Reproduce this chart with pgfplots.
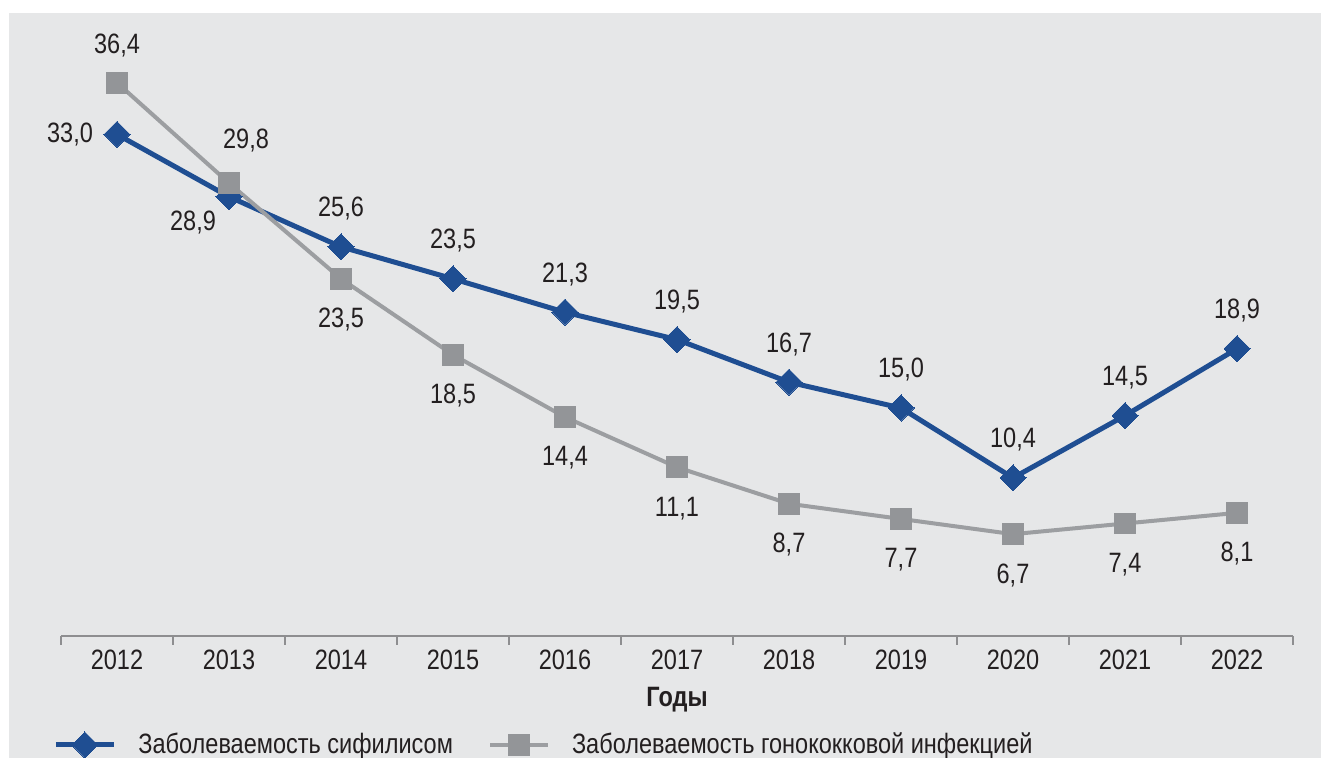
\documentclass[border=0pt]{standalone}
\usepackage{fontspec}
\setmainfont{Liberation Sans}[FakeStretch=0.84]
\usepackage{pgfplots}
\usepackage{pgfplotstable}
\pgfplotsset{compat=1.18}
\definecolor{bg}{HTML}{E6E7E8}
\definecolor{syph}{HTML}{1F4E92}
\definecolor{gonol}{HTML}{9C9EA1}
\definecolor{gonom}{HTML}{939598}
\definecolor{txt}{HTML}{231F20}
\definecolor{axl}{HTML}{8E8E90}

\pgfplotstableread{
x y lab dx dy
0 33.0 33,0 -23.5 0
1 28.9 28,9 -18 -13
2 25.6 25,6 0 19
3 23.5 23,5 0 19
4 21.3 21,3 0 19
5 19.5 19,5 0 19
6 16.7 16,7 0 19
7 15.0 15,0 0 19
8 10.4 10,4 0 19
9 14.5 14,5 0 19
10 18.9 18,9 0 19
}\syphtab

\pgfplotstableread{
x y lab dx dy
0 36.4 36,4 0 18.5
1 29.8 29,8 8.5 21.5
2 23.5 23,5 0 -20.5
3 18.5 18,5 0 -20.5
4 14.4 14,4 0 -20.5
5 11.1 11,1 0 -20.5
6 8.7 8,7 0 -20.5
7 7.7 7,7 0 -20.5
8 6.7 6,7 0 -20.5
9 7.4 7,4 0 -20.5
10 8.1 8,1 0 -20.5
}\gontab

\begin{document}
\begin{tikzpicture}[font=\fontsize{14}{16}\selectfont, text=txt]
\fill[white] (-30.5pt,-61pt) rectangle (630pt,318pt);
\fill[bg] (-26pt,-61pt) rectangle (630pt,311.5pt);
\path[use as bounding box] (-30.5pt,-61pt) rectangle (630pt,318pt);
\begin{axis}[
  at={(0pt,0pt)}, anchor=south west,
  scale only axis, width=616pt, height=304pt,
  xmin=-0.5, xmax=10.5, ymin=0, ymax=40,
  clip=false,
  axis x line*=bottom, hide y axis,
  axis line style={axl, line width=0.75pt},
  tick align=outside,
  xtick={0,...,10},
  xticklabels={2012,2013,2014,2015,2016,2017,2018,2019,2020,2021,2022},
  major tick length=0pt,
  major tick style={draw=none},
  minor xtick={-0.5,0.5,...,10.5},
  minor tick length=4.5pt,
  minor tick style={axl, line width=0.75pt},
  xticklabel style={anchor=base, yshift=-17pt, text=txt},
  xlabel={\bfseries Годы},
  xlabel style={at={(axis description cs:0.5,0)}, anchor=base, yshift=-35.5pt, text=txt},
  legend columns=2,
  legend style={at={(axis description cs:0,0)}, anchor=west, xshift=-4pt, yshift=-54.5pt,
    draw=none, fill=none, inner xsep=0pt, text=txt,
    /tikz/every even column/.append style={column sep=15.5pt},
    /tikz/every odd column/.append style={column sep=9pt}},
  legend cell align=left,
  legend image code/.code={
    \draw[mark repeat=2, mark phase=2, #1] plot coordinates {(0pt,0pt) (14.5pt,0pt) (29pt,0pt)};
  },
]
\addplot[syph, line width=2.5pt, mark=square*, mark size=4.6pt,
  mark options={rotate=45, solid, fill=syph, draw=syph, line width=0pt},
  nodes near coords, point meta=explicit symbolic,
  visualization depends on={\thisrow{dx}\as\dx},
  visualization depends on={\thisrow{dy}\as\dy},
  every node near coord/.append style={anchor=center, xshift=\dx, yshift=\dy, text=txt, inner sep=0pt, font=\fontsize{14}{16}\selectfont}
] table[x=x, y=y, meta=lab] {\syphtab};
\addlegendentry{Заболеваемость сифилисом}
\addplot[gonol, line width=2pt, mark=square*, mark size=5.2pt,
  mark options={solid, fill=gonom, draw=gonom, line width=0pt},
  nodes near coords, point meta=explicit symbolic,
  visualization depends on={\thisrow{dx}\as\dx},
  visualization depends on={\thisrow{dy}\as\dy},
  every node near coord/.append style={anchor=center, xshift=\dx, yshift=\dy, text=txt, inner sep=0pt, font=\fontsize{14}{16}\selectfont}
] table[x=x, y=y, meta=lab] {\gontab};
\addlegendentry{Заболеваемость гонококковой инфекцией}
\end{axis}
\end{tikzpicture}
\end{document}
